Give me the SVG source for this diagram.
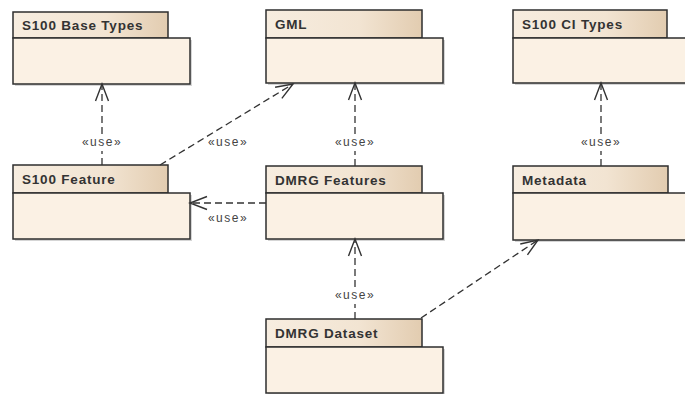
<svg xmlns="http://www.w3.org/2000/svg" width="685" height="394" viewBox="0 0 685 394">
<defs>
<linearGradient id="tabg" x1="0" y1="0" x2="1" y2="0">
<stop offset="0" stop-color="#f7ede0"/>
<stop offset="0.6" stop-color="#f2e4d2"/>
<stop offset="1" stop-color="#e2ccb0"/>
</linearGradient>
<marker id="open" markerUnits="userSpaceOnUse" viewBox="-18 -9 20 18" refX="0" refY="0" markerWidth="20" markerHeight="18" orient="auto" overflow="visible">
<path d="M -17 -6.5 L 0 0 L -17 6.5" fill="none" stroke="#333" stroke-width="1.4" stroke-dasharray="none"/>
</marker>
</defs>
<style>
.shadow{fill:#888;opacity:0.35}
.tab{fill:url(#tabg);stroke:#2e2e2e;stroke-width:1.5}
.body{fill:#fbf1e4;stroke:#2e2e2e;stroke-width:1.5}
.name{font-family:"Liberation Sans",Arial,sans-serif;font-weight:bold;font-size:13.5px;letter-spacing:0.8px;fill:#333}
.conn{fill:none;stroke:#333;stroke-width:1.3;stroke-dasharray:7 4}
.lbl{font-family:"Liberation Sans",Arial,sans-serif;font-size:12px;letter-spacing:1.5px;fill:#444;text-anchor:middle}
</style>
<rect width="685" height="394" fill="#ffffff"/>

<g id="s100-base-types">
<rect class="shadow" x="15" y="40" width="177" height="46"/>
<rect class="tab" x="13" y="12" width="155" height="26"/>
<rect class="body" x="13" y="38" width="177" height="46"/>
<text class="name" x="22" y="30">S100 Base Types</text>
</g>

<g id="gml">
<rect class="shadow" x="268" y="40" width="177" height="45"/>
<rect class="tab" x="266" y="10" width="156" height="28"/>
<rect class="body" x="266" y="38" width="177" height="45"/>
<text class="name" x="275" y="28.5">GML</text>
</g>

<g id="s100-ci-types">
<rect class="shadow" x="515" y="40" width="177" height="45"/>
<rect class="tab" x="513" y="10" width="154" height="28"/>
<rect class="body" x="513" y="38" width="177" height="45"/>
<text class="name" x="522" y="28.5">S100 CI Types</text>
</g>

<g id="s100-feature">
<rect class="shadow" x="15" y="195" width="177" height="46"/>
<rect class="tab" x="13" y="165" width="155" height="28"/>
<rect class="body" x="13" y="193" width="177" height="46"/>
<text class="name" x="22" y="184">S100 Feature</text>
</g>

<g id="dmrg-features">
<rect class="shadow" x="268" y="195" width="177" height="46"/>
<rect class="tab" x="266" y="166" width="156" height="27"/>
<rect class="body" x="266" y="193" width="177" height="46"/>
<text class="name" x="275" y="184.5">DMRG Features</text>
</g>

<g id="metadata">
<rect class="shadow" x="515" y="195" width="177" height="47"/>
<rect class="tab" x="513" y="166" width="155" height="27"/>
<rect class="body" x="513" y="193" width="177" height="47"/>
<text class="name" x="522" y="184.5">Metadata</text>
</g>

<g id="dmrg-dataset">
<rect class="shadow" x="268" y="349" width="177" height="46"/>
<rect class="tab" x="266" y="319" width="156" height="28"/>
<rect class="body" x="266" y="347" width="177" height="46"/>
<text class="name" x="275" y="338">DMRG Dataset</text>
</g>

<g id="connectors">
<path class="conn" d="M 102 165 L 102 151"/>
<path class="conn" d="M 102 134 L 102 84" marker-end="url(#open)"/>
<text class="lbl" x="102" y="146">«use»</text>

<path class="conn" d="M 160 165 L 293 84" marker-end="url(#open)"/>
<text class="lbl" x="228" y="146">«use»</text>

<path class="conn" d="M 266 203 L 190 203" marker-end="url(#open)"/>
<text class="lbl" x="228" y="222">«use»</text>

<path class="conn" d="M 355 166 L 355 151"/>
<path class="conn" d="M 355 134 L 355 83" marker-end="url(#open)"/>
<text class="lbl" x="355" y="146">«use»</text>

<path class="conn" d="M 601 166 L 601 151"/>
<path class="conn" d="M 601 134 L 601 83" marker-end="url(#open)"/>
<text class="lbl" x="601" y="146">«use»</text>

<path class="conn" d="M 355 319 L 355 304"/>
<path class="conn" d="M 355 287 L 355 239" marker-end="url(#open)"/>
<text class="lbl" x="355" y="299">«use»</text>

<path class="conn" d="M 421 318 L 538 240" marker-end="url(#open)"/>
</g>
</svg>
